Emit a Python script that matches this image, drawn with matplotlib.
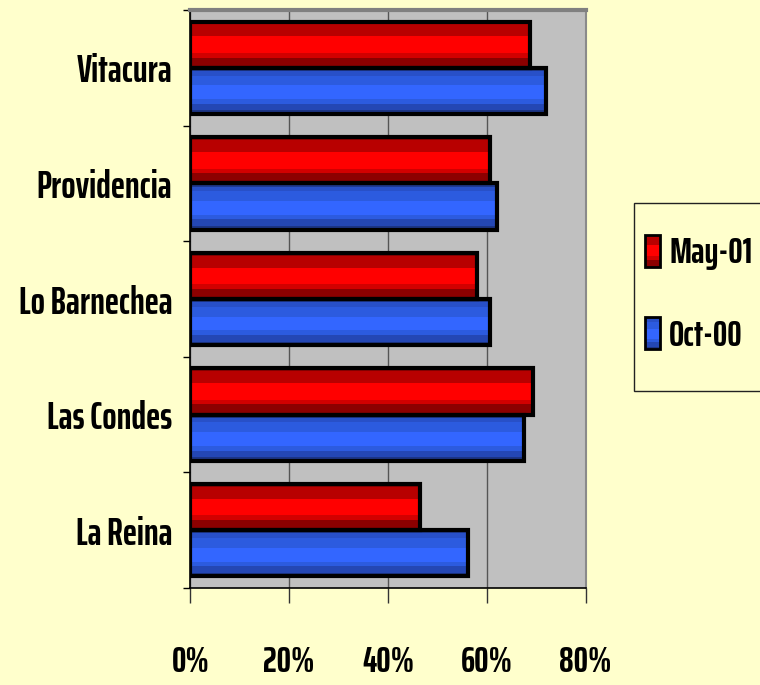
import matplotlib
matplotlib.use('Agg')
import matplotlib.pyplot as plt
import numpy as np
from matplotlib.patches import Rectangle
from matplotlib.legend_handler import HandlerBase

comunas = ['La Reina', 'Las Condes', 'Lo Barnechea', 'Providencia', 'Vitacura']
may_01 = [46.5, 69.3, 58.1, 60.6, 68.7]
oct_00 = [56.3, 67.6, 60.6, 62.0, 72.1]
series_names = ['May-01', 'Oct-00']
x_ticks = [0, 20, 40, 60, 80]

# shaded bands, top to bottom: (fraction of bar height, colour)
red_bands = [(0.06, '#8c0000'), (0.26, '#b80000'), (0.36, '#ff0000'),
             (0.10, '#d20000'), (0.22, '#8c0000')]
blue_bands = [(0.07, '#1f3a8f'), (0.10, '#2850c8'), (0.21, '#2c5bdf'),
              (0.30, '#3366ff'), (0.10, '#2c5bdf'), (0.14, '#2447b4'),
              (0.08, '#1c3585')]

bg = '#ffffcc'
plt.rcParams['font.family'] = ['Saira ExtraCondensed', 'DejaVu Sans']
plt.rcParams['font.weight'] = 'bold'

W, H = 760, 685
fig = plt.figure(figsize=(W / 100, H / 100), dpi=100, facecolor=bg)
ax = fig.add_axes([190.5 / W, 1 - 588 / H, 395 / W, 578 / H])
ax.set_facecolor('#c0c0c0')

y = np.arange(len(comunas))
h = 0.40


def banded_barh(ax, ypos, values, height, bands):
    top = ypos + height / 2
    for frac, col in bands:
        bh = frac * height
        ax.barh(top - bh / 2, values, height=bh, color=col, edgecolor='none', zorder=2)
        top = top - bh
    ax.barh(ypos, values, height=height, fill=False, edgecolor='black', linewidth=3, zorder=3)


banded_barh(ax, y + h / 2, may_01, h, red_bands)
banded_barh(ax, y - h / 2, oct_00, h, blue_bands)

ax.set_xlim(0, 80)
ax.set_ylim(-0.5, len(comunas) - 0.5)
ax.set_xticks(x_ticks)
ax.set_xticklabels([f'{t}%' for t in x_ticks])
ax.set_yticks(y)
ax.set_yticklabels(comunas)
ax.set_yticks(np.arange(-0.5, len(comunas)), minor=True)

ax.xaxis.grid(True, color='#555555', linewidth=1)
ax.set_axisbelow(True)

ax.tick_params(axis='x', length=11, width=1, color='#333333', pad=30, labelsize=26)
ax.tick_params(axis='y', which='major', length=0, pad=13, labelsize=27)
ax.tick_params(axis='y', which='minor', length=5, width=1, color='black')

for s in ['left', 'bottom']:
    ax.spines[s].set_color('black')
    ax.spines[s].set_linewidth(1.2)
ax.spines['top'].set_color('#808080')
ax.spines['top'].set_linewidth(3)
ax.spines['right'].set_color('#8a8a8a')
ax.spines['right'].set_linewidth(1.5)


class BandHandler(HandlerBase):
    def __init__(self, bands):
        super().__init__()
        self.bands = bands

    def create_artists(self, legend, orig_handle, xdescent, ydescent,
                       width, height, fontsize, trans):
        arts = []
        top = height - ydescent
        for frac, col in self.bands:
            bh = frac * height
            arts.append(Rectangle((-xdescent, top - bh), width, bh,
                                  facecolor=col, edgecolor='none', transform=trans))
            top -= bh
        arts.append(Rectangle((-xdescent, -ydescent), width, height, fill=False,
                              edgecolor='black', linewidth=2, transform=trans))
        return arts


# legend box runs off the right edge of the figure
fig.patches.append(Rectangle((634 / W, 1 - 391 / H), 140 / W, 188 / H,
                             transform=fig.transFigure, facecolor=bg,
                             edgecolor='#222222', linewidth=1))

h_may = Rectangle((0, 0), 1, 1)
h_oct = Rectangle((0, 0), 1, 1)
leg = fig.legend([h_may, h_oct], series_names,
                 handler_map={h_may: BandHandler(red_bands), h_oct: BandHandler(blue_bands)},
                 loc='center left', bbox_to_anchor=(645 / W, 1 - 293.5 / H),
                 fontsize=26, frameon=False, borderpad=0,
                 handlelength=0.42, handleheight=1.0, handletextpad=0.25,
                 labelspacing=1.3, borderaxespad=0)

fig.savefig('out.png', dpi=100, facecolor=bg)
